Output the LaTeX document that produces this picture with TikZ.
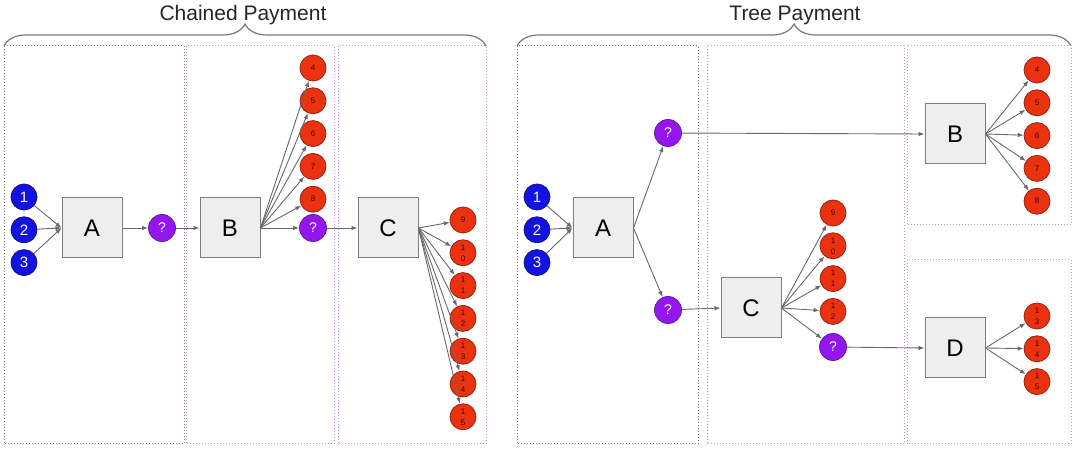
\documentclass[tikz,border=0pt]{standalone}
\usepackage{fontspec}
\setmainfont{Liberation Sans}
\usetikzlibrary{
	positioning,
	arrows.meta,
	decorations.pathreplacing
}

\definecolor{boxfill}{RGB}{238,238,238}
\definecolor{boxline}{RGB}{125,125,125}
\definecolor{arrowgray}{RGB}{105,105,105}
\definecolor{bluefill}{RGB}{18,18,228}
\definecolor{blueline}{RGB}{20,20,120}
\definecolor{redfill}{RGB}{234,50,16}
\definecolor{redline}{RGB}{150,35,15}
\definecolor{redtext}{RGB}{70,0,0}
\definecolor{purplefill}{RGB}{148,22,238}
\definecolor{purpleline}{RGB}{100,25,160}
\definecolor{panelgray}{RGB}{115,115,115}
\definecolor{panelpink}{RGB}{200,150,232}
\definecolor{bracegray}{RGB}{120,120,120}

\begin{document}
\begin{tikzpicture}[x=1pt, y=-1pt,
			party/.style={rectangle, draw=boxline, fill=boxfill, line width=1pt, minimum size=60pt, inner sep=0, font=\fontsize{24}{24}\selectfont},
			sender/.style={circle, draw=blueline, fill=bluefill, line width=0.8pt, minimum size=26pt, inner sep=0, text=white, font=\fontsize{15}{15}\selectfont},
			payee/.style={circle, draw=redline, fill=redfill, line width=0.8pt, minimum size=26pt, inner sep=0, align=center, text=redtext, font=\fontsize{8}{11}\selectfont},
			hop/.style={circle, draw=purpleline, fill=purplefill, line width=0.8pt, minimum size=27pt, inner sep=0, text=white, font=\fontsize{14}{14}\selectfont},
			title/.style={inner sep=0, text=black!85, font=\fontsize{21}{21}\selectfont},
			zone/.style={draw=panelgray, dotted, line width=1pt},
			pinkzone/.style={draw=panelpink, dotted, line width=1pt},
			bracket/.style={draw=bracegray, line width=1.2pt, decorate, decoration={brace, amplitude=22pt}},
			arrow/.style={draw=arrowgray, line width=0.9pt, -{Latex[length=6pt,width=4.5pt]}}]

			\useasboundingbox (0,0) rectangle (1080,454);

			% chained payment
			\node[title] (chainTitle) at (243,15) {Chained Payment};
			\draw[bracket] (4,46) -- (486,46);
			\draw[zone] (4,46) rectangle (184,444);
			\draw[pinkzone] (186,46) rectangle (334,444);
			\draw[pinkzone] (338,46) rectangle (486,444);

			\node[sender] (c1) at (24,197) {1};
			\node[sender, below=6pt of c1] (c2) {2};
			\node[sender, below=6pt of c2] (c3) {3};

			\node[party] (cA) at (92,228) {A};
			\node[hop] (cq1) at (162,228) {?};
			\node[party] (cB) at (230,228) {B};

			\node[payee] (c4) at (313,68) {4};
			\node[payee, below=6pt of c4] (c5) {5};
			\node[payee, below=6pt of c5] (c6) {6};
			\node[payee, below=6pt of c6] (c7) {7};
			\node[payee, below=6pt of c7] (c8) {8};
			\node[hop] (cq2) at (313,228) {?};

			\node[party] (cC) at (388,228) {C};

			\node[payee] (c9) at (463,220) {9};
			\node[payee, below=6pt of c9] (c10) {1\\0};
			\node[payee, below=6pt of c10] (c11) {1\\1};
			\node[payee, below=6pt of c11] (c12) {1\\2};
			\node[payee, below=6pt of c12] (c13) {1\\3};
			\node[payee, below=6pt of c13] (c14) {1\\4};
			\node[payee, below=6pt of c14] (c15) {1\\5};

			\draw[arrow] (c1) -- (cA.west);
			\draw[arrow] (c2) -- (cA.west);
			\draw[arrow] (c3) -- (cA.west);
			\draw[arrow] (cA) -- (cq1);
			\draw[arrow] (cq1) -- (cB);
			\draw[arrow] (cB.east) -- (c4);
			\draw[arrow] (cB.east) -- (c5);
			\draw[arrow] (cB.east) -- (c6);
			\draw[arrow] (cB.east) -- (c7);
			\draw[arrow] (cB.east) -- (c8);
			\draw[arrow] (cB.east) -- (cq2);
			\draw[arrow] (cq2) -- (cC);
			\draw[arrow] (cC.east) -- (c9);
			\draw[arrow] (cC.east) -- (c10);
			\draw[arrow] (cC.east) -- (c11);
			\draw[arrow] (cC.east) -- (c12);
			\draw[arrow] (cC.east) -- (c13);
			\draw[arrow] (cC.east) -- (c14);
			\draw[arrow] (cC.east) -- (c15);

			% tree payment
			\node[title] (treeTitle) at (795,15) {Tree Payment};
			\draw[bracket] (517,46) -- (1071,46);
			\draw[zone] (517,46) rectangle (698,444);
			\draw[pinkzone] (707,46) rectangle (904,444);
			\draw[pinkzone] (907,46) rectangle (1071,225);
			\draw[pinkzone] (907,260) rectangle (1071,444);

			\node[sender] (t1) at (537,197) {1};
			\node[sender, below=6pt of t1] (t2) {2};
			\node[sender, below=6pt of t2] (t3) {3};

			\node[party] (tA) at (603,228) {A};
			\node[hop] (tq1) at (668,133) {?};
			\node[hop] (tq2) at (668,310) {?};

			\node[party] (tB) at (955,134) {B};
			\node[payee] (t4) at (1037,70) {4};
			\node[payee, below=6pt of t4] (t5) {5};
			\node[payee, below=6pt of t5] (t6) {6};
			\node[payee, below=6pt of t6] (t7) {7};
			\node[payee, below=6pt of t7] (t8) {8};

			\node[party] (tC) at (751,308) {C};
			\node[payee] (t9) at (833,213) {9};
			\node[payee, below=6pt of t9] (t10) {1\\0};
			\node[payee, below=6pt of t10] (t11) {1\\1};
			\node[payee, below=6pt of t11] (t12) {1\\2};
			\node[hop] (tq3) at (833,347) {?};

			\node[party] (tD) at (955,348) {D};
			\node[payee] (t13) at (1037,316) {1\\3};
			\node[payee, below=6pt of t13] (t14) {1\\4};
			\node[payee, below=6pt of t14] (t15) {1\\5};

			\draw[arrow] (t1) -- (tA.west);
			\draw[arrow] (t2) -- (tA.west);
			\draw[arrow] (t3) -- (tA.west);
			\draw[arrow] (tA.east) -- (tq1);
			\draw[arrow] (tA.east) -- (tq2);
			\draw[arrow] (tq1) -- (tB.west);
			\draw[arrow] (tq2) -- (tC.west);
			\draw[arrow] (tB.east) -- (t4);
			\draw[arrow] (tB.east) -- (t5);
			\draw[arrow] (tB.east) -- (t6);
			\draw[arrow] (tB.east) -- (t7);
			\draw[arrow] (tB.east) -- (t8);
			\draw[arrow] (tC.east) -- (t9);
			\draw[arrow] (tC.east) -- (t10);
			\draw[arrow] (tC.east) -- (t11);
			\draw[arrow] (tC.east) -- (t12);
			\draw[arrow] (tC.east) -- (tq3);
			\draw[arrow] (tq3) -- (tD.west);
			\draw[arrow] (tD.east) -- (t13);
			\draw[arrow] (tD.east) -- (t14);
			\draw[arrow] (tD.east) -- (t15);
		\end{tikzpicture}
\end{document}
